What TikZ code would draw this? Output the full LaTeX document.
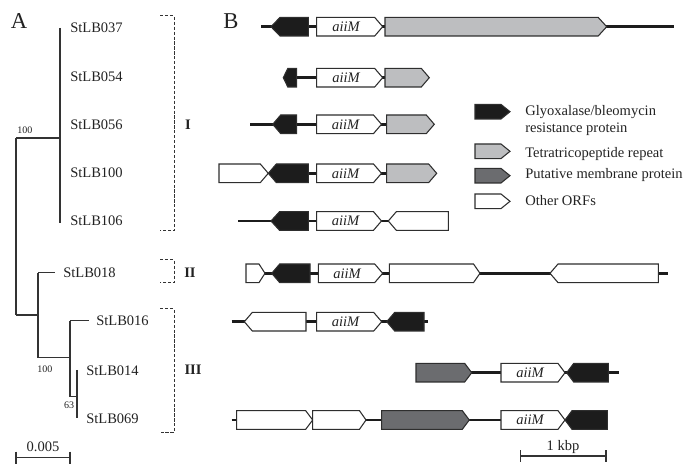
\documentclass[tikz,border=0pt]{standalone}
\usepackage{fontspec}
\setmainfont{Liberation Serif}
\definecolor{blk}{HTML}{1C1C1C}
\definecolor{tpr}{HTML}{BDBEC0}
\definecolor{mem}{HTML}{6B6C6F}
\definecolor{edgec}{HTML}{2E2E2E}
\definecolor{txt}{HTML}{222222}
\definecolor{treec}{HTML}{333333}
% rightward gene: [head] x1 x2 y style
\newcommand{\geneR}[5][8.5]{\draw[gene,#5] ({#2},{#4-9.3}) -- ({#3-#1},{#4-9.3}) -- ({#3},{#4}) -- ({#3-#1},{#4+9.3}) -- ({#2},{#4+9.3}) -- cycle;}
% leftward gene: [head] tip flat y style
\newcommand{\geneL}[5][8.5]{\draw[gene,#5] ({#3},{#4-9.3}) -- ({#2+#1},{#4-9.3}) -- ({#2},{#4}) -- ({#2+#1},{#4+9.3}) -- ({#3},{#4+9.3}) -- cycle;}
% legend gene
\newcommand{\legR}[2]{\draw[gene,#2] (475,{#1-7.3}) -- (501,{#1-7.3}) -- (510,{#1}) -- (501,{#1+7.3}) -- (475,{#1+7.3}) -- cycle;}
\begin{document}
\begin{tikzpicture}[x=0.75pt,y=-0.75pt,
  lbl/.style={font=\fontsize{10.9}{12.5}\selectfont, inner sep=0pt, text=txt},
  small/.style={font=\fontsize{7.5}{9}\selectfont, inner sep=0pt, text=txt},
  big/.style={font=\fontsize{17}{20}\selectfont, inner sep=0pt, text=txt},
  clade/.style={font=\bfseries\fontsize{10.9}{12.5}\selectfont, inner sep=0pt, text=txt},
  gname/.style={font=\itshape\fontsize{10.9}{12.5}\selectfont, inner sep=0pt, text=txt},
  branch/.style={draw=treec, line width=0.95pt},
  bracket/.style={draw=treec, line width=0.75pt, dash pattern=on 2.4pt off 1.3pt},
  backbone/.style={draw=blk, line width=2pt},
  gene/.style={draw=edgec, line width=0.8pt, line join=miter},
  wht/.style={fill=white},
  bk/.style={fill=blk},
  gr/.style={fill=tpr},
  mg/.style={fill=mem},
  sbar/.style={draw=treec, line width=0.8pt}
]
\useasboundingbox (0,0) rectangle (690,474);

% ---------- Panel A ----------
\node[big] (A) at (19,21) {A};

% tree
\draw[branch] (60,28) -- (60,223);
\draw[branch] (16,138) -- (60,138);
\draw[branch] (16,138) -- (16,315);
\draw[branch] (16,315) -- (38,315);
\draw[branch] (38,272.7) -- (38,357.7);
\draw[branch] (38,272.7) -- (55,272.7);
\draw[branch] (38,357.7) -- (70,357.7);
\draw[branch] (70,320.7) -- (70,396.7);
\draw[branch] (70,320.7) -- (89,320.7);
\draw[branch] (70,396.7) -- (77,396.7);
\draw[branch] (77,370) -- (77,418.5);

\node[small] (b1) at (25,130) {100};
\node[small] (b2) at (45,369) {100};
\node[small] (b3) at (69,405) {63};

\node[lbl,anchor=west] (t037) at (70,28) {StLB037};
\node[lbl,anchor=west] (t054) at (70,76.5) {StLB054};
\node[lbl,anchor=west] (t056) at (70,125) {StLB056};
\node[lbl,anchor=west] (t100) at (70,173) {StLB100};
\node[lbl,anchor=west] (t106) at (70,221) {StLB106};
\node[lbl,anchor=west] (t018) at (63,272.7) {StLB018};
\node[lbl,anchor=west] (t016) at (96,320.7) {StLB016};
\node[lbl,anchor=west] (t014) at (86,370.5) {StLB014};
\node[lbl,anchor=west] (t069) at (86,419) {StLB069};

% brackets
\draw[bracket] (160,16) -- (174,16) -- (174,231) -- (160,231);
\draw[bracket] (160,260) -- (174,260) -- (174,282.7) -- (160,282.7);
\draw[bracket] (160,309) -- (174,309) -- (174,432.7) -- (160,432.7);
\node[clade] (cI) at (188,125) {I};
\node[clade] (cII) at (190,272.7) {II};
\node[clade] (cIII) at (193,370) {III};

% scale bar A
\draw[sbar] (16,457.7) -- (70,457.7);
\draw[sbar] (16,451.5) -- (16,464);
\draw[sbar] (70,451.5) -- (70,464);
\node[lbl] (sA) at (43,447) {0.005};

% ---------- Panel B ----------
\node[big] (B) at (231,21) {B};

% backbones
\draw[backbone] (261,26.7) -- (674,26.7);
\draw[backbone] (290,77.7) -- (387,77.7);
\draw[backbone] (250,124.3) -- (388,124.3);
\draw[backbone] (300,173.3) -- (388,173.3);
\draw[backbone] (238.3,221) -- (390,221);
\draw[backbone] (250,273.3) -- (668.3,273.3);
\draw[backbone] (231.7,321.7) -- (427.7,321.7);
\draw[backbone] (418,372.7) -- (619,372.7);
\draw[backbone] (231.7,420) -- (608,420);

% row 1
\geneL[9]{271}{308.3}{26.7}{bk}
\geneR[8]{316.7}{382.7}{26.7}{wht}
\geneR[8.5]{385}{606.7}{26.7}{gr}
% row 2
\geneL[4.5]{283.3}{296.7}{77.7}{bk}
\geneR[8]{316.7}{382.7}{77.7}{wht}
\geneR[8]{385}{429.3}{77.7}{gr}
% row 3
\geneL[8]{272.7}{296.7}{124.3}{bk}
\geneR[8]{316.7}{381.5}{124.3}{wht}
\geneR[8]{386.7}{434.3}{124.3}{gr}
% row 4
\geneR[8]{219}{268.3}{173.3}{wht}
\geneL[8]{268.3}{308.3}{173.3}{bk}
\geneR[8]{316.7}{381.5}{173.3}{wht}
\geneR[8]{386.7}{436.7}{173.3}{gr}
% row 5
\geneL[8.5]{271}{308.3}{221}{bk}
\geneR[8]{316.7}{381.5}{221}{wht}
\geneL[8]{388.3}{448.3}{221}{wht}
% row 6
\geneR[6]{246}{265}{273.3}{wht}
\geneL[8]{271.7}{310}{273.3}{bk}
\geneR[8]{318.3}{382.7}{273.3}{wht}
\geneR[6.5]{389.3}{480}{273.3}{wht}
\geneL[8]{550}{658.3}{273.3}{wht}
% row 7
\geneL[8]{244.3}{306}{321.7}{wht}
\geneR[8]{316.7}{381.7}{321.7}{wht}
\geneL[8]{386.7}{424}{321.7}{bk}
% row 8
\geneR[7]{416}{471.7}{372.7}{mg}
\geneR[7]{501}{565}{372.7}{wht}
\geneL[7]{566.7}{608.3}{372.7}{bk}
% row 9
\geneR[7]{236.7}{312.7}{420}{wht}
\geneR[6.5]{312.7}{366}{420}{wht}
\geneR[7]{381.7}{469.3}{420}{mg}
\geneR[7]{501}{565}{420}{wht}
\geneL[7]{565}{607.3}{420}{bk}

% aiiM labels
\node[gname] (m1) at (346,26.7) {aiiM};
\node[gname] (m2) at (346,77.7) {aiiM};
\node[gname] (m3) at (345.5,124.3) {aiiM};
\node[gname] (m4) at (345.5,173.3) {aiiM};
\node[gname] (m5) at (345.5,221) {aiiM};
\node[gname] (m6) at (347,273.3) {aiiM};
\node[gname] (m7) at (345.5,321.7) {aiiM};
\node[gname] (m8) at (530,372.7) {aiiM};
\node[gname] (m9) at (530,420) {aiiM};

% legend
\legR{111.7}{bk}
\legR{151.3}{gr}
\legR{175.7}{mg}
\legR{201.3}{wht}
\node[lbl,anchor=west] (l1) at (525,111.7) {Glyoxalase/bleomycin};
\node[lbl,anchor=west] (l1b) at (525,129.3) {resistance protein};
\node[lbl,anchor=west] (l2) at (525,153.8) {Tetratricopeptide repeat};
\node[lbl,anchor=west] (l3) at (525,175.5) {Putative membrane protein};
\node[lbl,anchor=west] (l4) at (525,201) {Other ORFs};

% scale bar B
\draw[sbar] (520.7,456) -- (606,456);
\draw[sbar] (520.7,450) -- (520.7,462);
\draw[sbar] (606,450) -- (606,462);
\node[lbl] (sB) at (563,447) {1 kbp};
\end{tikzpicture}
\end{document}
